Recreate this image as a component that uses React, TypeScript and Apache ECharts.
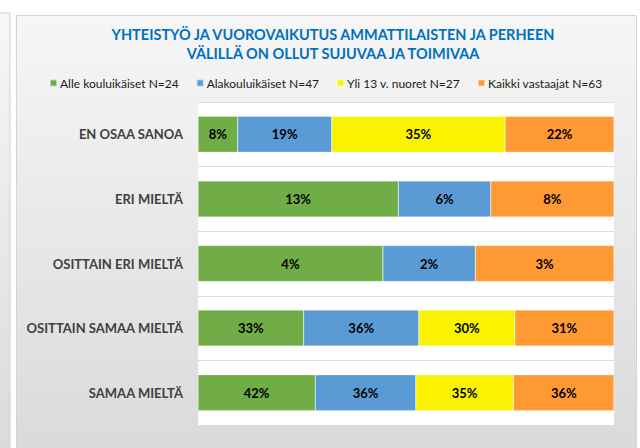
import React, { useEffect, useRef } from "react";
import * as echarts from "echarts";

const categories = [
  "EN OSAA SANOA",
  "ERI MIELTÄ",
  "OSITTAIN ERI MIELTÄ",
  "OSITTAIN SAMAA MIELTÄ",
  "SAMAA MIELTÄ",
];
const seriesNames = [
  "Alle kouluikäiset N=24",
  "Alakouluikäiset N=47",
  "Yli 13 v. nuoret N=27",
  "Kaikki vastaajat N=63",
];
const alleKouluikaiset = [8, 13, 4, 33, 42];
const alakouluikaiset = [19, 6, 2, 36, 36];
const yli13Nuoret = [35, null, null, 30, 35];
const kaikkiVastaajat = [22, 8, 3, 31, 36];
const colors = ["#70AD47", "#5B9BD5", "#F9F300", "#FF9933"];
const titleLines = [
  "YHTEISTYÖ JA VUOROVAIKUTUS AMMATTILAISTEN JA PERHEEN",
  "VÄLILLÄ ON OLLUT SUJUVAA JA TOIMIVAA",
];

export default function App() {
  const ref = useRef<HTMLDivElement>(null);
  useEffect(() => {
    if (!ref.current) return;
    const chart = echarts.init(ref.current, null, { renderer: "svg" });
    const raw = [alleKouluikaiset, alakouluikaiset, yli13Nuoret, kaikkiVastaajat];
    const totals = categories.map((_, i) =>
      raw.reduce((s, arr) => s + (arr[i] ?? 0), 0)
    );
    const font = "Lato, 'Open Sans', sans-serif";
    chart.setOption({
      animation: false,
      backgroundColor: "#ffffff",
      graphic: [
        {
          type: "rect",
          shape: { x: -10, y: 13, width: 20, height: 460 },
          style: {
            fill: new echarts.graphic.LinearGradient(0, 0, 0, 1, [
              { offset: 0, color: "#f7f7f7" },
              { offset: 1, color: "#d9d9d9" },
            ]),
            stroke: "#d0d0d0",
            lineWidth: 1,
          },
          z: -10,
        },
        {
          type: "rect",
          shape: { x: 16.5, y: 15.5, width: 620, height: 450 },
          style: {
            fill: new echarts.graphic.LinearGradient(0, 0, 0, 1, [
              { offset: 0, color: "#f6f6f6" },
              { offset: 1, color: "#d9d9d9" },
            ]),
            stroke: "#d4d4d4",
            lineWidth: 1,
          },
          z: -10,
        },
      ],
      title: {
        text: titleLines.join("\n"),
        left: 328,
        top: 20,
        textAlign: "center",
        textStyle: {
          color: "#0070C0",
          fontSize: 14.5,
          fontWeight: "bold",
          fontFamily: font,
          lineHeight: 19,
        },
      },
      legend: {
        data: seriesNames,
        top: 72,
        left: 44,
        itemWidth: 7,
        itemHeight: 7,
        itemGap: 17,
        icon: "rect",
        textStyle: { color: "#1a1a1a", fontSize: 12, fontFamily: font, padding: [0, 0, 0, -2] },
      },
      grid: {
        left: 198,
        right: 26,
        top: 102,
        bottom: 23,
        show: true,
        backgroundColor: "#ffffff",
        borderWidth: 0,
      },
      xAxis: {
        type: "value",
        min: 0,
        max: 100,
        show: false,
      },
      yAxis: {
        type: "category",
        data: categories,
        inverse: true,
        axisLine: { show: false },
        axisTick: { show: false },
        splitLine: { show: true, lineStyle: { color: "#dcdcdc", width: 1 } },
        axisLabel: {
          color: "#404040",
          fontSize: 13,
          fontWeight: "bold",
          fontFamily: font,
          margin: 15,
        },
      },
      series: raw.map((arr, si) => ({
        name: seriesNames[si],
        type: "bar",
        stack: "total",
        barWidth: 36,
        itemStyle: { color: colors[si], borderColor: "rgba(255,255,255,0.5)", borderWidth: 0.5 },
        label: {
          show: true,
          position: "inside",
          color: "#000",
          fontSize: 13,
          fontWeight: "bold",
          fontFamily: font,
          formatter: (p: any) => {
            const v = arr[p.dataIndex];
            return v == null ? "" : v + "%";
          },
        },
        data: arr.map((v, i) => (v == null ? null : (v / totals[i]) * 100)),
      })),
    });
    return () => chart.dispose();
  }, []);
  return (
    <div
      ref={ref}
      style={{ position: "fixed", left: 0, top: 0, width: 640, height: 448 }}
    />
  );
}
